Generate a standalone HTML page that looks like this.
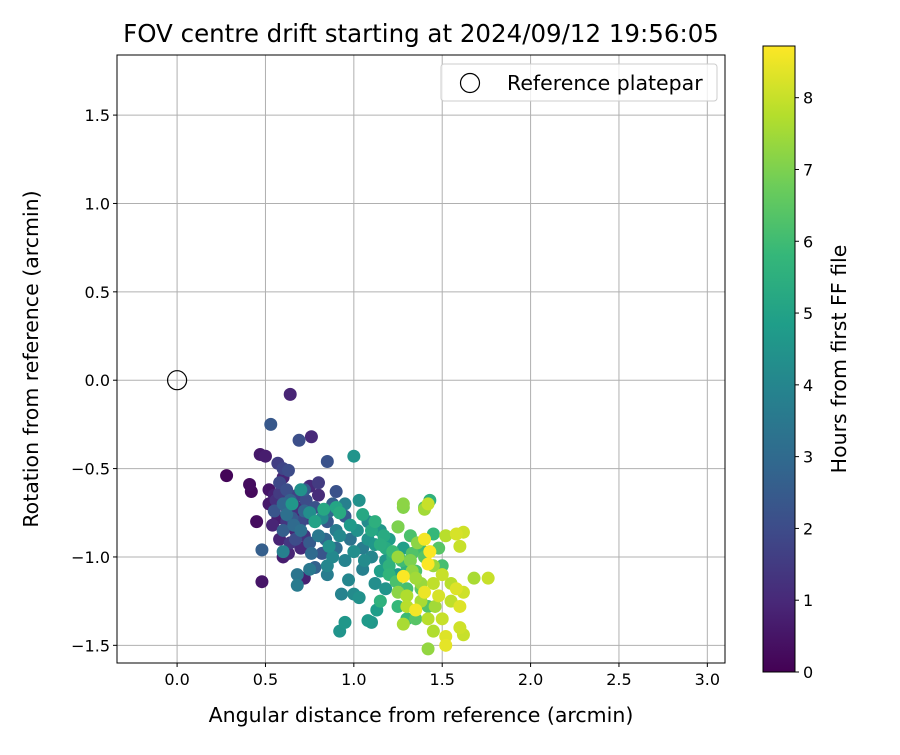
<!DOCTYPE html>
<html><head><meta charset="utf-8"><style>body{margin:0;background:#fff}svg text{font-family:"DejaVu Sans","Liberation Sans",sans-serif;fill:#000}</style></head>
<body><svg id="c" width="900" height="750" xmlns="http://www.w3.org/2000/svg"></svg>
<script>
const xTicks=[0,0.5,1,1.5,2,2.5,3];
const yTicks=[-1.5,-1,-0.5,0,0.5,1,1.5];
const cTicks=[0,1,2,3,4,5,6,7,8];
const pts=[[0.28,-0.54,0.1],[0.41,-0.59,0.3],[0.42,-0.63,0.2],[0.45,-0.80,0.3],[0.48,-1.14,0.5],[0.47,-0.42,0.6],[0.50,-0.43,0.7],[0.64,-0.08,0.9],[0.76,-0.32,1.0],[0.55,-0.65,0.8],[0.60,-0.55,0.9],[0.52,-0.70,0.6],[0.57,-0.78,0.7],[0.62,-0.72,0.9],[0.67,-0.85,0.9],[0.72,-1.12,0.8],[0.58,-0.90,0.9],[0.66,-0.75,0.8],[0.54,-0.82,0.9],[0.75,-0.60,1.0],[0.63,-0.98,0.9],[0.70,-0.95,1.0],[0.52,-0.62,0.5],[0.60,-1.00,0.7],
[0.56,-0.68,1.2],[0.62,-0.80,1.4],[0.72,-0.88,1.3],[0.80,-0.65,1.1],[0.58,-0.64,1.5],[0.68,-0.72,1.2],[0.74,-0.78,1.6],[0.64,-0.92,1.4],
[0.53,-0.25,2.4],[0.69,-0.34,2.1],[0.85,-0.46,2.2],[0.57,-0.47,1.6],[0.60,-0.50,1.8],[0.63,-0.51,2.0],[0.48,-0.96,2.6],[0.58,-0.58,1.9],[0.62,-0.62,2.1],[0.68,-0.65,1.7],[0.73,-0.68,2.0],[0.80,-0.58,1.5],[0.90,-0.63,2.2],[0.55,-0.74,2.3],[0.65,-0.78,2.4],[0.70,-0.80,1.9],[0.78,-0.72,2.2],[0.85,-0.80,2.4],[0.60,-0.85,2.6],[0.75,-0.92,2.5],[0.82,-0.98,2.3],[0.67,-0.90,2.0],[0.88,-0.70,2.6],[0.64,-0.68,2.7],[0.72,-0.62,2.5],[0.95,-0.77,2.5],[0.78,-1.06,2.7],
[0.60,-0.70,2.9],[0.66,-0.82,3.0],[0.72,-0.74,2.8],[0.84,-0.90,2.9],[0.90,-0.95,3.1],[0.76,-0.98,3.0],[0.62,-0.76,3.2],[0.86,-0.74,3.0],
[1.00,-0.43,4.5],[1.03,-0.68,4.4],[0.92,-1.42,4.5],[0.95,-1.37,4.6],[1.08,-1.36,4.7],[1.10,-1.37,4.6],[0.68,-1.16,3.6],[0.68,-1.10,3.4],[0.60,-0.97,3.8],[0.75,-1.07,3.5],[0.85,-1.10,3.7],[0.85,-1.05,4.0],[0.93,-1.21,3.9],[1.00,-1.21,4.2],[1.03,-1.23,4.4],[1.12,-1.15,4.3],[0.70,-0.85,3.2],[0.80,-0.88,3.5],[0.90,-0.85,3.6],[0.98,-0.90,3.3],[1.05,-0.95,3.7],[1.10,-1.00,4.0],[0.95,-1.02,3.9],[0.88,-1.00,4.1],[0.82,-0.78,4.2],[0.92,-0.75,4.5],[0.75,-0.75,4.3],[0.65,-0.70,4.6],[0.70,-0.62,4.4],[1.15,-0.85,4.6],[1.20,-0.90,4.8],[1.15,-1.08,4.9],[1.25,-1.10,4.7],[1.28,-0.95,4.9],[1.05,-1.07,3.8],[0.97,-1.13,4.0],[1.13,-1.30,4.8],[0.95,-0.70,3.8],[0.78,-0.80,4.0],[1.08,-0.80,4.2],[1.18,-1.18,4.5],[1.02,-0.85,4.4],
[0.92,-0.88,4.1],[1.00,-0.97,4.3],[1.08,-0.90,4.5],[1.12,-0.93,4.6],[0.98,-0.82,4.7],[1.06,-1.02,4.2],[1.18,-1.02,4.6],[0.86,-0.94,4.4],
[1.10,-0.85,5.2],[1.18,-0.95,5.3],[1.22,-1.00,5.5],[1.30,-1.05,5.6],[1.25,-1.28,5.8],[1.30,-1.35,5.9],[1.25,-0.83,6.0],[1.32,-0.88,6.2],[1.38,-0.96,6.0],[1.40,-1.00,6.4],[1.35,-1.08,6.2],[1.43,-0.68,5.6],[1.40,-0.72,6.3],[1.45,-0.87,5.8],[1.05,-0.76,5.2],[0.92,-0.75,5.3],[1.12,-0.80,5.5],[1.20,-1.10,5.7],[1.30,-1.18,6.1],[1.15,-1.25,5.6],[1.38,-1.18,6.5],[1.42,-1.28,6.3],[1.50,-1.05,6.1],[1.48,-0.95,6.4],[1.22,-0.97,5.9],[0.90,-0.72,5.1],[0.83,-0.73,5.2],[0.78,-0.80,5.0],[1.35,-1.35,6.4],
[1.15,-0.93,5.4],[1.20,-1.05,5.6],[1.27,-1.02,6.0],[1.33,-0.98,6.3],[1.17,-0.88,5.3],[1.24,-1.14,6.2],
[1.28,-0.70,7.2],[1.28,-0.72,7.1],[1.40,-0.73,7.5],[1.42,-0.70,8.0],[1.25,-0.83,7.0],[1.40,-0.90,8.6],[1.43,-0.97,8.7],[1.52,-0.88,7.8],[1.58,-0.87,8.2],[1.62,-0.86,8.1],[1.60,-0.94,8.0],[1.25,-1.00,7.4],[1.32,-1.02,7.0],[1.42,-1.04,8.7],[1.28,-1.11,8.7],[1.35,-1.12,7.5],[1.45,-1.15,7.9],[1.50,-1.10,8.0],[1.55,-1.15,7.8],[1.62,-1.20,8.1],[1.68,-1.12,7.6],[1.76,-1.12,8.0],[1.30,-1.22,7.7],[1.38,-1.25,7.6],[1.48,-1.22,8.2],[1.55,-1.25,7.9],[1.60,-1.28,8.3],[1.35,-1.30,8.6],[1.42,-1.35,7.8],[1.50,-1.35,8.0],[1.45,-1.42,7.7],[1.52,-1.45,8.3],[1.52,-1.50,8.4],[1.60,-1.40,8.1],[1.62,-1.44,8.0],[1.42,-1.52,7.3],[1.28,-1.38,7.6],[1.25,-1.20,7.2],[1.58,-1.18,8.3],[1.40,-1.20,8.5],[1.45,-1.05,7.4],
[1.33,-1.08,7.3],[1.38,-1.15,7.4],[1.30,-1.28,7.8],[1.46,-1.28,7.5],[1.36,-0.92,7.2]];
const hMax=8.72;
const L=117,R=725,T=55,B=663,X0=-0.34,X1=3.1,Y0=-1.6,Y1=1.84;
const sx=v=>L+(v-X0)/(X1-X0)*(R-L), sy=v=>B-(v-Y0)/(Y1-Y0)*(B-T);
const vir=[[68,1,84],[72,40,120],[62,74,137],[49,104,142],[38,130,142],[31,158,137],[53,183,121],[109,205,89],[180,222,44],[253,231,37]];
function col(h){let t=Math.max(0,Math.min(1,h/hMax))*(vir.length-1),i=Math.min(Math.floor(t),vir.length-2),f=t-i;const c=vir[i].map((a,k)=>Math.round(a+(vir[i+1][k]-a)*f));return `rgb(${c})`;}
const svg=document.getElementById('c');const NS='http://www.w3.org/2000/svg';
function el(t,a,p){const e=document.createElementNS(NS,t);for(const k in a)e.setAttribute(k,a[k]);(p||svg).appendChild(e);return e;}
function txt(s,a,p){const e=el('text',a,p);e.textContent=s;return e;}
let e=txt('FOV centre drift starting at 2024/09/12 19:56:05',{x:421,y:42,'font-size':24.5,'text-anchor':'middle'});


xTicks.forEach(v=>{let g=el('line',{x1:sx(v),x2:sx(v),y1:T,y2:B,stroke:'#b0b0b0','stroke-width':1});
el('line',{x1:sx(v),x2:sx(v),y1:B,y2:B+4,stroke:'#000'});let t=txt(v.toFixed(1),{x:sx(v),y:B+22,'font-size':16,'text-anchor':'middle'});});
yTicks.forEach(v=>{let g=el('line',{x1:L,x2:R,y1:sy(v),y2:sy(v),stroke:'#b0b0b0','stroke-width':1});
el('line',{x1:L-4,x2:L,y1:sy(v),y2:sy(v),stroke:'#000'});let t=txt((v<0?'\u2212':'')+Math.abs(v).toFixed(1),{x:L-7,y:sy(v)+6,'font-size':16,'text-anchor':'end'});});
pts.slice().sort((a,b)=>a[2]-b[2]).forEach(p=>{let c=el('circle',{cx:sx(p[0]),cy:sy(p[1]),r:6.5,fill:col(p[2])});});
e=el('circle',{cx:sx(0),cy:sy(0),r:9.5,fill:'none',stroke:'#000','stroke-width':1.2});


e=el('rect',{x:L,y:T,width:R-L,height:B-T,fill:'none',stroke:'#000','stroke-width':1});


e=txt('Angular distance from reference (arcmin)',{x:421,y:722,'font-size':20.5,'text-anchor':'middle'});


e=txt('Rotation from reference (arcmin)',{x:0,y:0,'font-size':20.5,'text-anchor':'middle',transform:`translate(38,${(T+B)/2}) rotate(-90)`});


const lg=el('g',{});


el('rect',{x:441,y:64,width:276,height:37,rx:3,fill:'#fff','fill-opacity':0.8,stroke:'#ccc'},lg);
el('circle',{cx:470,cy:83,r:9.5,fill:'none',stroke:'#000','stroke-width':1.2},lg);
txt('Reference platepar',{x:507,y:90,'font-size':20.5},lg);
const defs=el('defs',{});const gr=el('linearGradient',{id:'vg',x1:0,y1:1,x2:0,y2:0},defs);
vir.forEach((c,i)=>el('stop',{offset:i/(vir.length-1),'stop-color':`rgb(${c})`},gr));
const CL=763,CR=795,CT=46,CB=672;
e=el('rect',{x:CL,y:CT,width:CR-CL,height:CB-CT,fill:'url(#vg)',stroke:'#000','stroke-width':1});


cTicks.forEach(v=>{const y=CB-v/hMax*(CB-CT);el('line',{x1:CR,x2:CR+4,y1:y,y2:y,stroke:'#000'});let t=txt(String(v),{x:CR+8,y:y+6,'font-size':16});});
e=txt('Hours from first FF file',{x:0,y:0,'font-size':20.5,'text-anchor':'middle',transform:`translate(846,${(CT+CB)/2}) rotate(-90)`});


</script></body></html>
